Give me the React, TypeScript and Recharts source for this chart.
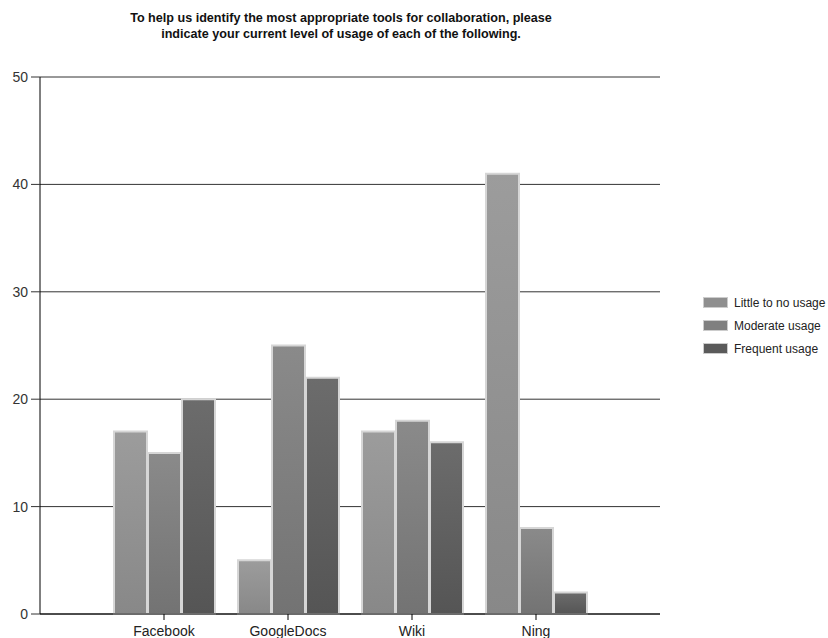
import React from 'react';
import { BarChart, Bar, XAxis, YAxis, CartesianGrid } from 'recharts';

const categories = ['Facebook', 'GoogleDocs', 'Wiki', 'Ning'];
const littleUsage = [17, 5, 17, 41];
const moderateUsage = [15, 25, 18, 8];
const frequentUsage = [20, 22, 16, 2];
const yTicks = [0, 10, 20, 30, 40, 50];
const seriesNames = ['Little to no usage', 'Moderate usage', 'Frequent usage'];
const titleLines = [
  'To help us identify the most appropriate tools for collaboration, please',
  'indicate your current level of usage of each of the following.',
];

const data = categories.map((c, i) => ({
  name: c,
  little: littleUsage[i],
  moderate: moderateUsage[i],
  frequent: frequentUsage[i],
}));

const font = 'Arial, "Liberation Sans", sans-serif';
const swatch = ['#8f8f8f', '#808080', '#5a5a5a'];

export default function App() {
  return (
    <div style={{ position: 'absolute', left: 0, top: 0, width: 828, height: 638, background: '#fff', fontFamily: font }}>
      <div style={{ position: 'absolute', left: 0, top: 10, width: 682, textAlign: 'center', fontWeight: 'bold', fontSize: 12.6, lineHeight: '16px', color: '#111' }}>
        {titleLines.map((t) => (
          <div key={t}>{t}</div>
        ))}
      </div>
      <BarChart
        width={828}
        height={638}
        data={data}
        margin={{ top: 77, right: 168, bottom: 0, left: 0 }}
        barSize={33}
        barGap={1}
      >
        <defs>
          <linearGradient id="gLittle" x1="0" y1="0" x2="0" y2="1">
            <stop offset="0%" stopColor="#9c9c9c" />
            <stop offset="100%" stopColor="#888888" />
          </linearGradient>
          <linearGradient id="gModerate" x1="0" y1="0" x2="0" y2="1">
            <stop offset="0%" stopColor="#8a8a8a" />
            <stop offset="100%" stopColor="#737373" />
          </linearGradient>
          <linearGradient id="gFrequent" x1="0" y1="0" x2="0" y2="1">
            <stop offset="0%" stopColor="#6c6c6c" />
            <stop offset="100%" stopColor="#555555" />
          </linearGradient>
        </defs>
        <CartesianGrid vertical={false} stroke="#333" strokeWidth={1} />
        <XAxis
          dataKey="name"
          height={24}
          padding={{ left: 62, right: 62 }}
          axisLine={{ stroke: '#000' }}
          tickLine={{ stroke: '#000' }}
          tickSize={6}
          tickMargin={6}
          tick={{ fill: '#222', fontSize: 14, fontFamily: font }}
          interval={0}
        />
        <YAxis
          width={40}
          domain={[0, 50]}
          ticks={yTicks}
          axisLine={{ stroke: '#000' }}
          tickLine={{ stroke: '#333' }}
          tickSize={9}
          tickMargin={3}
          tick={{ fill: '#333', fontSize: 14, fontFamily: font }}
        />
        <Bar dataKey="little" name={seriesNames[0]} fill="url(#gLittle)" stroke="#d6d6d6" strokeWidth={2} isAnimationActive={false} />
        <Bar dataKey="moderate" name={seriesNames[1]} fill="url(#gModerate)" stroke="#d6d6d6" strokeWidth={2} isAnimationActive={false} />
        <Bar dataKey="frequent" name={seriesNames[2]} fill="url(#gFrequent)" stroke="#d6d6d6" strokeWidth={2} isAnimationActive={false} />
      </BarChart>
      <div style={{ position: 'absolute', left: 703, top: 291, fontSize: 12, color: '#222' }}>
        {seriesNames.map((n, i) => (
          <div key={n} style={{ display: 'flex', alignItems: 'center', height: 23 }}>
            <div style={{ width: 23, height: 9, background: swatch[i], border: '1px solid #ccc', marginRight: 6 }} />
            <span>{n}</span>
          </div>
        ))}
      </div>
    </div>
  );
}
